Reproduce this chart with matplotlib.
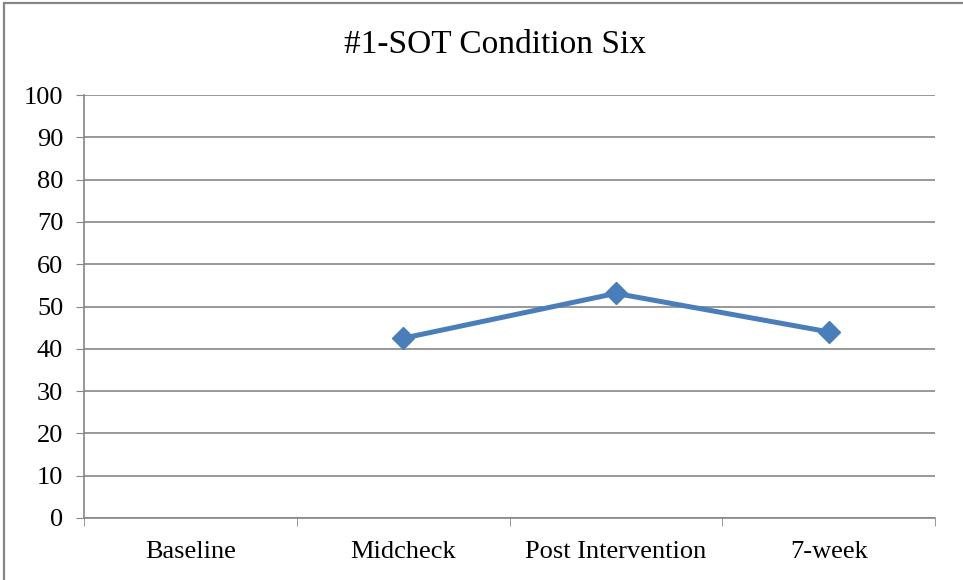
import matplotlib
matplotlib.use("Agg")
import matplotlib.pyplot as plt
import numpy as np
from matplotlib.patches import Rectangle

categories = ["Baseline", "Midcheck", "Post Intervention", "7-week"]
values = [np.nan, 42.5, 53.1, 44.0]
yticks = list(range(0, 101, 10))

plt.rcParams['font.family'] = ['Liberation Serif', 'DejaVu Serif']

fig = plt.figure(figsize=(9.63, 5.8), dpi=100)
ax = fig.add_axes([84/963, 62/580, 851/963, 423/580])

x = np.arange(len(categories))
ax.plot(x, values, color="#4A7EBB", lw=3.6, marker="D", markersize=11,
        markerfacecolor="#4A7EBB", markeredgecolor="#4A7EBB", zorder=3)

ax.set_xlim(-0.5, len(categories) - 0.5)
ax.set_ylim(0, 100)
ax.set_yticks(yticks)
ax.set_yticklabels([str(t) for t in yticks], fontsize=19)
ax.set_xticks(x)
ax.set_xticklabels(categories, fontsize=19)
ax.set_xticks(np.arange(-0.5, len(categories)), minor=True)
ax.tick_params(axis='x', which='major', length=0, pad=16.5)
ax.tick_params(axis='x', which='minor', length=5.5, color="#868686", direction='out')
ax.tick_params(axis='y', length=6, color="#868686", direction='out', pad=9)
ax.yaxis.grid(True, color="#868686", lw=1.2)
ax.set_axisbelow(True)
for s in ['top', 'right']:
    ax.spines[s].set_visible(False)
for s in ['left', 'bottom']:
    ax.spines[s].set_color("#868686")
    ax.spines[s].set_linewidth(1.2)

fig.text(495/963, 1 - 45/580, "#1-SOT Condition Six", ha='center', va='center', fontsize=24)
fig.patches.append(Rectangle((3.5/963, -10/580), 975/963, 586.5/580, transform=fig.transFigure,
                             fill=False, edgecolor="#868686", lw=1.6))

fig.savefig("out.png", dpi=100)
